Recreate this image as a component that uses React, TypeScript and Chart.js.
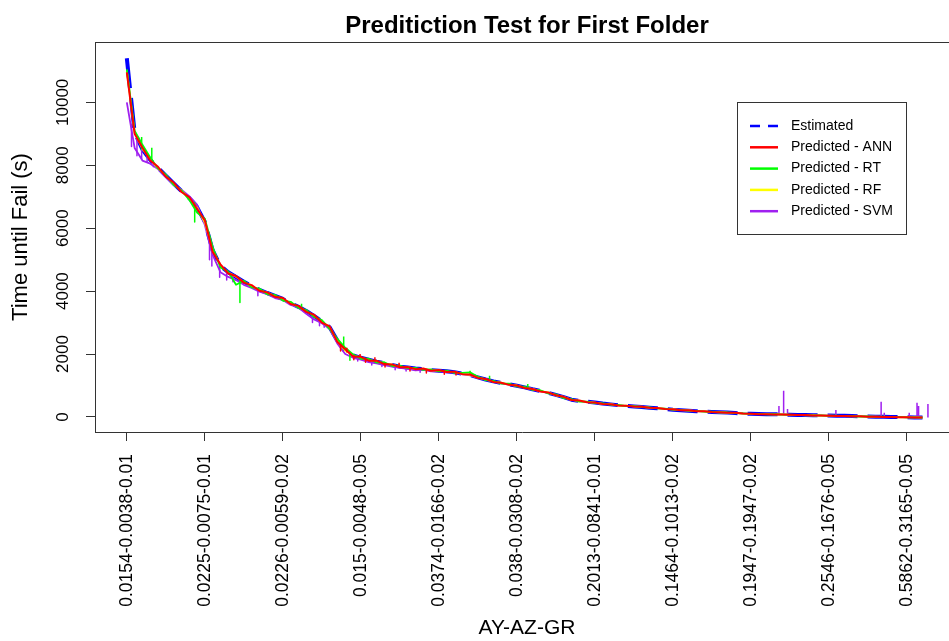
import React, { useEffect, useRef } from 'react';
import { Chart, registerables } from 'chart.js';
Chart.register(...registerables);

const FONT = '"Liberation Sans", Arial, Helvetica, sans-serif';

const TITLE = 'Preditiction Test for First Folder';
const X_TITLE = 'AY-AZ-GR';
const Y_TITLE = 'Time until Fail (s)';

const tickIndex = [0, 10, 20, 30, 40, 50, 60, 70, 80, 90, 100];
const tickLabels = [
  '0.0154-0.0038-0.01',
  '0.0225-0.0075-0.01',
  '0.0226-0.0059-0.02',
  '0.015-0.0048-0.05',
  '0.0374-0.0166-0.02',
  '0.038-0.0308-0.02',
  '0.2013-0.0841-0.01',
  '0.1464-0.1013-0.02',
  '0.1947-0.1947-0.02',
  '0.2546-0.1676-0.05',
  '0.5862-0.3165-0.05',
];
const yTicks = [0, 2000, 4000, 6000, 8000, 10000];

const seriesNames = ['Estimated', 'Predicted - ANN', 'Predicted - RT', 'Predicted - RF', 'Predicted - SVM'];
const seriesColors = ['#0000FF', '#FF0000', '#00FF00', '#FFFF00', '#A020F0'];

const estimated = [
  11400, 9050, 8500, 8170, 7920, 7670, 7420, 7180, 6960, 6670,
  6200, 5300, 4800, 4600, 4450, 4300, 4160, 4040, 3940, 3850,
  3750, 3620, 3500, 3370, 3210, 3040, 2850, 2420, 2080, 1960,
  1880, 1820, 1760, 1710, 1650, 1600, 1570, 1540, 1520, 1490,
  1470, 1450, 1420, 1380, 1330, 1260, 1190, 1130, 1080, 1040,
  990, 940, 880, 830, 770, 700, 630, 550, 510, 485,
  460, 425, 400, 375, 355, 335, 315, 295, 275, 255,
  230, 215, 200, 185, 170, 160, 150, 140, 125, 110,
  100, 95, 90, 85, 80, 70, 65, 60, 55, 50,
  45, 40, 35, 30, 20, 15, 10, 5, 0, -5,
  -10, -15, -15,
];

const predANN = [
  10950, 9000, 8560, 8150, 7950, 7640, 7450, 7150, 6990, 6620,
  6250, 5250, 4850, 4560, 4480, 4270, 4190, 4010, 3960, 3820,
  3780, 3590, 3530, 3340, 3250, 3000, 2880, 2380, 2150, 1920,
  1910, 1790, 1790, 1680, 1670, 1580, 1590, 1520, 1540, 1470,
  1490, 1430, 1440, 1360, 1350, 1240, 1210, 1110, 1090, 1020,
  1000, 920, 890, 810, 780, 690, 640, 540, 520, 470,
  460, 410, 405, 365, 360, 335, 325, 295, 285, 255,
  245, 215, 210, 185, 180, 155, 150, 135, 130, 110,
  100, 90, 90, 80, 80, 70, 60, 60, 50, 45,
  40, 30, 30, 20, 20, 10, 10, 0, 0, -10,
  -10, -15, -20,
];

const predRT = [
  11050, 9100, 8650, 8250, 7900, 7700, 7380, 7200, 6900, 6500,
  6300, 5400, 4750, 4620, 4200, 4330, 4120, 4080, 3900, 3880,
  3700, 3660, 3470, 3400, 3180, 3080, 2800, 2480, 2200, 1990,
  1850, 1850, 1730, 1740, 1620, 1630, 1550, 1560, 1500, 1510,
  1450, 1470, 1400, 1400, 1420, 1280, 1170, 1150, 1060, 1060,
  970, 960, 860, 850, 750, 720, 600, 570, 490, 490,
  440, 430, 390, 380, 345, 345, 315, 305, 275, 265,
  235, 225, 200, 195, 170, 165, 145, 145, 125, 115,
  95, 100, 85, 90, 75, 75, 60, 65, 50, 50,
  35, 40, 25, 30, 15, 20, 5, 10, -5, 0,
  -15, -10, -20,
];

const predRF = [
  11000, 9030, 8520, 8190, 7900, 7680, 7400, 7190, 6950, 6650,
  6180, 5320, 4820, 4590, 4460, 4290, 4170, 4030, 3950, 3840,
  3760, 3610, 3510, 3360, 3220, 3030, 2860, 2400, 2110, 1950,
  1890, 1810, 1770, 1700, 1660, 1590, 1580, 1530, 1530, 1480,
  1480, 1440, 1430, 1370, 1340, 1250, 1200, 1120, 1090, 1030,
  1000, 930, 890, 820, 780, 690, 640, 545, 515, 475,
  455, 415, 405, 365, 360, 335, 325, 295, 285, 255,
  245, 215, 210, 185, 180, 155, 150, 135, 130, 105,
  100, 90, 90, 80, 80, 65, 65, 55, 55, 40,
  40, 30, 30, 20, 20, 10, 10, 0, 0, -10,
  -10, -15, -20,
];

const predSVM = [
  10000, 8550, 8150, 8050, 7880, 7620, 7380, 7220, 7020, 6750,
  6100, 5150, 4600, 4450, 4350, 4200, 4100, 3980, 3900, 3780,
  3720, 3560, 3480, 3280, 3100, 2980, 2800, 2330, 2000, 1880,
  1820, 1740, 1700, 1650, 1600, 1560, 1530, 1480, 1500, 1450,
  1460, 1420, 1410, 1360, 1320, 1250, 1180, 1120, 1070, 1030,
  980, 930, 870, 820, 760, 690, 620, 545, 505, 475,
  450, 415, 400, 370, 355, 340, 320, 300, 280, 260,
  240, 220, 205, 190, 175, 160, 150, 140, 130, 110,
  100, 95, 90, 85, 80, 70, 65, 60, 55, 45,
  40, 35, 30, 25, 20, 15, 10, 5, 0, -5,
  -10, -12, -15,
];

// thin excursions (position in index units, start value, end value)
const svmSpikeAt = [0.6, 1.3, 1.9, 2.6, 3.4, 10.6, 10.9, 11.9, 12.8, 13.6, 16.8, 23.8, 24.7, 25.3, 29.6, 31.4, 32.7, 34.4, 35.8, 37.6, 83.6, 84.2, 84.7, 90.9, 96.7, 97.1, 100.3, 101.3, 101.5, 102.7];
const svmSpikeFrom = [9300, 8900, 8550, 8350, 8100, 5700, 5500, 4850, 4650, 4520, 4080, 3250, 3100, 3000, 1920, 1800, 1730, 1650, 1580, 1530, 85, 85, 85, 35, 5, 5, -10, -12, -12, -15];
const svmSpikeTo = [8600, 8300, 8200, 8100, 7950, 5000, 4800, 4440, 4350, 4300, 3850, 3000, 2900, 2850, 1780, 1650, 1600, 1500, 1460, 1420, 350, 830, 250, 220, 480, 130, 130, 450, 350, 410];

const rtSpikeAt = [1.9, 3.2, 8.7, 14.5, 22.4, 27.8, 28.6, 44.0, 46.5, 51.4];
const rtSpikeFrom = [8500, 8150, 6800, 4380, 3420, 2150, 2050, 1330, 1160, 910];
const rtSpikeTo = [8900, 8560, 6200, 3640, 3600, 2560, 1800, 1470, 1310, 1050];

const annSpikeAt = [27.4, 28.2, 29.1, 29.9, 30.6, 31.8, 33.1, 34.9, 36.3, 38.4, 40.7, 42.2];
const annSpikeFrom = [2300, 2050, 1950, 1890, 1860, 1790, 1700, 1620, 1560, 1510, 1460, 1420];
const annSpikeTo = [2100, 2200, 1820, 2000, 1740, 1900, 1590, 1720, 1460, 1400, 1360, 1330];

const toPoints = (arr: number[]) => arr.map((y, i) => ({ x: i, y }));
const toSpikes = (at: number[], from: number[], to: number[]) =>
  at.flatMap((x, k) => [
    { x, y: from[k] },
    { x, y: to[k] },
    { x, y: null as any },
  ]);

const framePlugin = {
  id: 'frameAndLabels',
  afterDraw(chart: any) {
    const { ctx, chartArea } = chart;
    const y = chart.scales.y;
    ctx.save();
    ctx.fillStyle = '#000';
    ctx.textAlign = 'center';
    ctx.textBaseline = 'middle';
    // title
    ctx.font = 'bold 24px ' + FONT;
    ctx.fillText(TITLE, 527, 26);
    // x-axis title
    ctx.font = '21px ' + FONT;
    ctx.fillText(X_TITLE, 527, 628);
    // top frame line
    ctx.strokeStyle = '#333';
    ctx.lineWidth = 1;
    ctx.beginPath();
    const ty = Math.round(chartArea.top) + 0.5;
    ctx.moveTo(chartArea.left, ty);
    ctx.lineTo(chart.width, ty);
    ctx.stroke();
    // y tick labels (rotated)
    ctx.font = '17px ' + FONT;
    for (const t of y.ticks) {
      const py = y.getPixelForValue(t.value);
      ctx.save();
      ctx.translate(63, py);
      ctx.rotate(-Math.PI / 2);
      ctx.fillText(String(t.value), 0, 0);
      ctx.restore();
    }
    ctx.restore();
  },
  afterDatasetsDraw(chart: any) {
    const { ctx } = chart;
    ctx.save();
    const bx = 737, by = 102, bw = 169, bh = 132;
    ctx.fillStyle = '#fff';
    ctx.fillRect(bx, by, bw, bh);
    ctx.strokeStyle = '#333';
    ctx.lineWidth = 1;
    ctx.strokeRect(bx + 0.5, by + 0.5, bw, bh);
    ctx.font = '14px ' + FONT;
    ctx.textBaseline = 'middle';
    ctx.textAlign = 'left';
    seriesNames.forEach((name, i) => {
      const ry = 126 + i * 21.3;
      ctx.strokeStyle = seriesColors[i];
      ctx.lineWidth = 2.5;
      ctx.setLineDash(i === 0 ? [10, 8] : []);
      ctx.beginPath();
      ctx.moveTo(750, ry);
      ctx.lineTo(778, ry);
      ctx.stroke();
      ctx.setLineDash([]);
      ctx.fillStyle = '#000';
      ctx.fillText(name, 791, ry);
    });
    ctx.restore();
  },
};

export default function App() {
  const ref = useRef<HTMLCanvasElement | null>(null);
  useEffect(() => {
    if (!ref.current) return;
    const chart = new Chart(ref.current, {
      type: 'line',
      data: {
        datasets: [
          { label: seriesNames[0], data: toPoints(estimated), borderColor: seriesColors[0], borderWidth: 4, borderDash: [30, 10], order: 6 },
          { label: seriesNames[1], data: toPoints(predANN), borderColor: seriesColors[1], borderWidth: 2, order: 1 },
          { label: seriesNames[2], data: toPoints(predRT), borderColor: seriesColors[2], borderWidth: 1.8, order: 3 },
          { label: seriesNames[3], data: toPoints(predRF), borderColor: seriesColors[3], borderWidth: 1.8, order: 4 },
          { label: seriesNames[4], data: toPoints(predSVM), borderColor: seriesColors[4], borderWidth: 1.8, order: 5 },
          { label: 'svm-spikes', data: toSpikes(svmSpikeAt, svmSpikeFrom, svmSpikeTo), borderColor: seriesColors[4], borderWidth: 1.5, order: 5, spanGaps: false },
          { label: 'rt-spikes', data: toSpikes(rtSpikeAt, rtSpikeFrom, rtSpikeTo), borderColor: seriesColors[2], borderWidth: 1.5, order: 3, spanGaps: false },
          { label: 'ann-spikes', data: toSpikes(annSpikeAt, annSpikeFrom, annSpikeTo), borderColor: seriesColors[1], borderWidth: 1.5, order: 1, spanGaps: false },
        ] as any,
      },
      options: {
        animation: false,
        responsive: false,
        devicePixelRatio: 1,
        layout: { padding: { top: 42, left: 0, right: 0, bottom: 0 } },
        elements: { point: { radius: 0 }, line: { tension: 0, borderCapStyle: 'butt', borderJoinStyle: 'round' } },
        plugins: {
          legend: { display: false },
          tooltip: { enabled: false },
          title: { display: false },
        },
        scales: {
          x: {
            type: 'linear',
            min: -4.08,
            max: 105.4,
            afterBuildTicks: (s: any) => { s.ticks = tickIndex.map((v) => ({ value: v })); },
            afterFit: (s: any) => { s.height = 209; },
            ticks: {
              autoSkip: false,
              minRotation: 90,
              maxRotation: 90,
              padding: 13,
              color: '#000',
              font: { family: FONT, size: 17.5 },
              callback: (_v: any, i: number) => tickLabels[i],
            },
            grid: { drawOnChartArea: false, tickLength: 9, color: '#333' },
            border: { color: '#333' },
            title: { display: false },
          },
          y: {
            type: 'linear',
            min: -478,
            max: 11918,
            afterBuildTicks: (s: any) => { s.ticks = yTicks.map((v) => ({ value: v })); },
            afterFit: (s: any) => { s.width = 95; },
            ticks: { display: false },
            grid: { drawOnChartArea: false, tickLength: 9, color: '#333' },
            border: { color: '#333' },
            title: { display: true, text: Y_TITLE, color: '#000', font: { family: FONT, size: 22 }, padding: { top: 8, bottom: 0 } },
          },
        },
      } as any,
      plugins: [framePlugin],
    });
    return () => chart.destroy();
  }, []);
  return (
    <div style={{ position: 'fixed', left: 0, top: 0, width: 949, height: 641, background: '#fff' }}>
      <canvas ref={ref} width={949} height={641} style={{ display: 'block' }} />
    </div>
  );
}
